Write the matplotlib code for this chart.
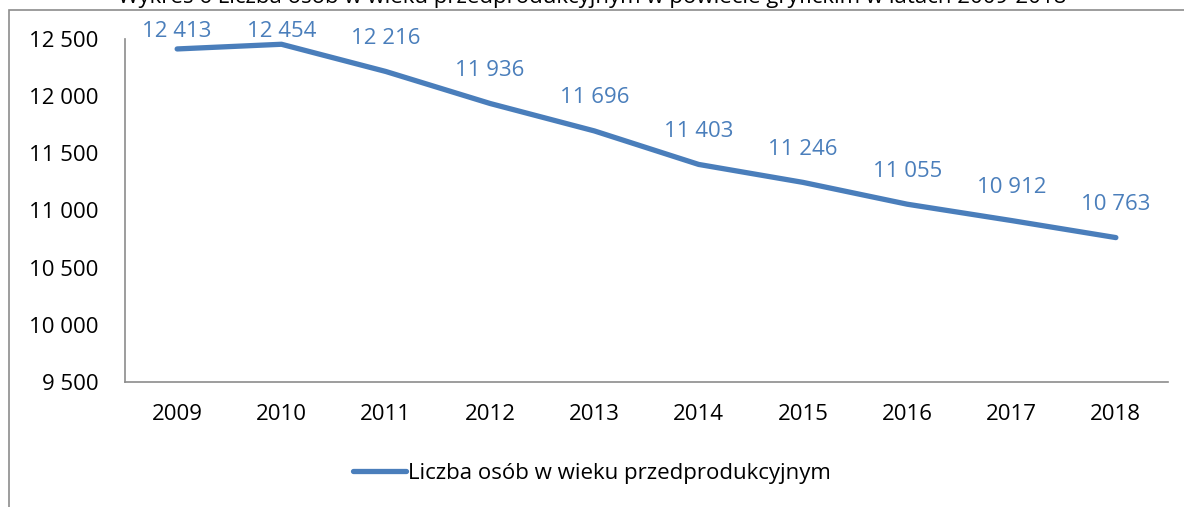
import matplotlib.pyplot as plt
from matplotlib.patches import Rectangle
from matplotlib.ticker import FuncFormatter

plt.rcParams["font.family"] = ["Open Sans", "DejaVu Sans"]

# data
years = ["2009", "2010", "2011", "2012", "2013", "2014", "2015", "2016", "2017", "2018"]
values = [12413, 12454, 12216, 11936, 11696, 11403, 11246, 11055, 10912, 10763]
series_name = "Liczba osób w wieku przedprodukcyjnym"
title = "Wykres 6 Liczba osób w wieku przedprodukcyjnym w powiecie gryfickim w latach 2009-2018"

blue = "#4a7ebb"
grey = "#8c8c8c"
W, H = 1184, 507
fs = 16


def thousands(v, pos=None):
    return f"{int(v):,}".replace(",", " ")


fig = plt.figure(figsize=(W / 100, H / 100), dpi=100)

# chart frame (runs off the right and bottom edges)
fig.patches.append(
    Rectangle((8.5 / W, -0.1), 1.2, 1 - 10 / H + 0.1,
              transform=fig.transFigure, fill=False, edgecolor=grey, lw=1.2)
)

# title, cut off by the top edge as in the source
fig.text(592 / W, 1 - 3 / H, title, ha="center", va="baseline",
         fontsize=fs, color="#000000")

ax = fig.add_axes([125 / W, 1 - 382 / H, (1168 - 125) / W, (382 - 39) / H])

x = list(range(len(years)))
line, = ax.plot(x, values, color=blue, lw=3.8, solid_capstyle="round",
                solid_joinstyle="round", label=series_name)

ax.set_xlim(-0.5, len(years) - 0.5)
ax.set_ylim(9500, 12500)
ax.set_yticks(range(9500, 12501, 500))
ax.yaxis.set_major_formatter(FuncFormatter(thousands))
ax.set_xticks(x)
ax.set_xticklabels(years)

for side in ("top", "right"):
    ax.spines[side].set_visible(False)
for side in ("left", "bottom"):
    ax.spines[side].set_color(grey)
    ax.spines[side].set_linewidth(1.2)

ax.tick_params(axis="y", length=0, pad=19, labelsize=fs)
ax.tick_params(axis="x", length=0, pad=16, labelsize=fs)

# data labels above points, kept inside the chart area at the top
for xi, v in zip(x, values):
    ly = min(v + 290, 12565)
    ax.text(xi, ly, thousands(v), ha="center", va="center",
            color=blue, fontsize=fs, clip_on=False)

fig.legend(handles=[line], loc="center", bbox_to_anchor=(592 / W, 1 - 473 / H),
           frameon=False, fontsize=fs, handlelength=2.4, handletextpad=0.1)

fig.savefig("out.png", dpi=100)
